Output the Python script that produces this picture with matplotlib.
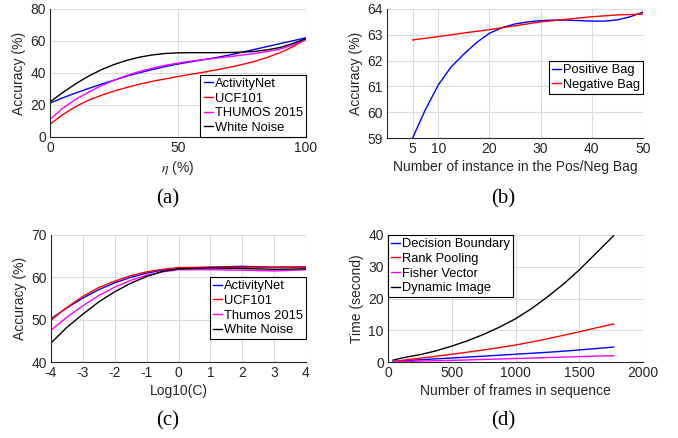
import matplotlib
matplotlib.use("Agg")
import matplotlib.pyplot as plt

plt.rcParams['font.family'] = ['Liberation Sans', 'DejaVu Sans']
plt.rcParams['mathtext.fontset'] = 'stix'
plt.rcParams['axes.unicode_minus'] = False

# ---------------- data ----------------
# (a)
eta = [0, 5, 10, 15, 20, 25, 30, 35, 40, 45, 50, 55, 60, 65, 70, 75, 80, 85, 90, 95, 100]
a_activitynet = [21.2, 24.5, 27.5, 30.3, 33, 35.5, 38, 40.2, 42.2, 44, 45.6, 47, 48.3, 49.7, 51.2, 53, 54.8, 56.6, 58.4, 60.2, 62]
a_ucf101 = [8, 14, 19, 23, 26, 28.7, 31, 33, 34.8, 36.3, 37.8, 39.2, 40.5, 42, 43.5, 45.3, 47.3, 49.8, 52.8, 56.5, 61]
a_thumos = [11, 18, 23.5, 28, 32, 35.5, 38.5, 41, 43, 44.8, 46.2, 47.4, 48.4, 49.3, 50.2, 51.2, 52.2, 53.4, 55, 57.5, 61.2]
a_noise = [22, 27.8, 33.2, 38, 42, 45.3, 47.9, 49.9, 51.3, 52.2, 52.6, 52.7, 52.7, 52.7, 52.8, 53, 53.5, 54.5, 56, 58.5, 61.5]
a_labels = ['ActivityNet', 'UCF101', 'THUMOS 2015', 'White Noise']

# (b)
b_pos_x = [5, 7.5, 10, 12.5, 15, 17.5, 20, 22.5, 25, 27.5, 30, 32.5, 35, 37.5, 40, 42.5, 45, 47.5, 50]
b_pos = [59.0, 60.1, 61.05, 61.75, 62.25, 62.7, 63.06, 63.28, 63.42, 63.5, 63.55, 63.57, 63.57, 63.55, 63.53, 63.53, 63.58, 63.7, 63.88]
b_neg_x = [5, 10, 15, 20, 25, 30, 35, 40, 45, 50]
b_neg = [62.8, 62.93, 63.07, 63.2, 63.35, 63.5, 63.6, 63.7, 63.77, 63.8]
b_labels = ['Positive Bag', 'Negative Bag']
b_xticks = [5, 10, 20, 30, 40, 50]

# (c)
logc = [-4, -3.5, -3, -2.5, -2, -1.5, -1, -0.5, 0, 1, 2, 3, 4]
c_activitynet = [50.2, 52.8, 55.1, 57.1, 58.7, 60, 61, 61.7, 62.1, 62.4, 62.6, 62.4, 62.4]
c_ucf101 = [49.9, 52.9, 55.5, 57.6, 59.1, 60.4, 61.3, 61.9, 62.3, 62.4, 62.4, 62.4, 62.5]
c_thumos = [47.5, 50.6, 53.3, 55.7, 57.7, 59.3, 60.5, 61.3, 61.8, 61.8, 61.7, 61.5, 61.8]
c_noise = [44.5, 48.2, 51.3, 54.2, 56.6, 58.6, 60.2, 61.4, 62, 62.2, 62.1, 61.9, 62.0]
c_labels = ['ActivityNet', 'UCF101', 'Thumos 2015', 'White Noise']

# (d)
frames = [40, 125, 250, 375, 500, 625, 750, 875, 1000, 1125, 1250, 1375, 1500, 1625, 1770]
d_decision = [0.15, 0.4, 0.7, 1.0, 1.25, 1.55, 1.85, 2.15, 2.45, 2.75, 3.05, 3.4, 3.8, 4.2, 4.7]
d_rank = [0.1, 0.6, 1.2, 1.8, 2.45, 3.1, 3.8, 4.55, 5.35, 6.3, 7.3, 8.4, 9.5, 10.7, 12.0]
d_fisher = [0.05, 0.15, 0.3, 0.4, 0.5, 0.65, 0.8, 0.95, 1.1, 1.25, 1.4, 1.55, 1.7, 1.85, 2.0]
d_dynamic = [0.6, 1.4, 2.3, 3.5, 5.0, 6.7, 8.7, 11.0, 13.6, 16.8, 20.5, 24.5, 29, 34, 39.8]
d_labels = ['Decision Boundary', 'Rank Pooling', 'Fisher Vector', 'Dynamic Image']

colors = ['#0000ff', '#ff0000', '#ff00ff', '#000000']

# ---------------- figure ----------------
W, H = 678, 438
fig = plt.figure(figsize=(W / 100, H / 100), dpi=100)

def ax_px(l, r, t, b):
    return fig.add_axes([l / W, (H - b) / H, (r - l) / W, (b - t) / H])

tc = '#262626'
FS = 10

def style(ax):
    ax.grid(True, color='#dcdcdc', lw=0.8)
    ax.set_axisbelow(True)
    for s in ['top', 'right']:
        ax.spines[s].set_visible(False)
    for s in ['left', 'bottom']:
        ax.spines[s].set_color(tc)
        ax.spines[s].set_linewidth(0.8)
    ax.tick_params(colors=tc, labelsize=FS, direction='in', length=0, pad=3)

def leg(ax, **kw):
    l = ax.legend(fontsize=9.3, frameon=True, fancybox=False, handlelength=0.7,
                  handletextpad=0.15, borderpad=0.25, labelspacing=0.2,
                  borderaxespad=0, framealpha=1, **kw)
    l.get_frame().set_edgecolor('black')
    l.get_frame().set_linewidth(0.8)
    return l

lw = 1.0

# (a)
ax = ax_px(50, 306, 9, 137)
style(ax)
for ys, c, lab in zip([a_activitynet, a_ucf101, a_thumos, a_noise], colors, a_labels):
    ax.plot(eta, ys, color=c, lw=lw, label=lab)
ax.set_xlim(0, 100); ax.set_ylim(0, 80)
ax.set_xticks([0, 50, 100]); ax.set_yticks([0, 20, 40, 60, 80])
ax.set_xlabel(r'$\eta$ (%)', fontsize=FS, color=tc, labelpad=3)
ax.set_ylabel('Accuracy (%)', fontsize=FS, color=tc, labelpad=3)
leg(ax, loc='lower right', bbox_to_anchor=(1, 0))

# (b)
ax = ax_px(387, 643, 9, 138)
style(ax)
ax.plot(b_pos_x, b_pos, color=colors[0], lw=lw, label=b_labels[0])
ax.plot(b_neg_x, b_neg, color=colors[1], lw=lw, label=b_labels[1])
ax.set_xlim(0, 50); ax.set_ylim(59, 64)
ax.set_xticks(b_xticks); ax.set_yticks([59, 60, 61, 62, 63, 64])
ax.set_xlabel('Number of instance in the Pos/Neg Bag', fontsize=FS, color=tc, labelpad=3)
ax.set_ylabel('Accuracy (%)', fontsize=FS, color=tc, labelpad=3)
leg(ax, loc='upper right', bbox_to_anchor=(1, (138 - 61) / 129))

# (c)
ax = ax_px(51, 306, 235, 362)
style(ax)
for ys, c, lab in zip([c_activitynet, c_ucf101, c_thumos, c_noise], colors, c_labels):
    ax.plot(logc, ys, color=c, lw=lw, label=lab)
ax.set_xlim(-4, 4); ax.set_ylim(40, 70)
ax.set_xticks(range(-4, 5)); ax.set_yticks([40, 50, 60, 70])
ax.set_xlabel('Log10(C)', fontsize=FS, color=tc, labelpad=3)
ax.set_ylabel('Accuracy (%)', fontsize=FS, color=tc, labelpad=3)
leg(ax, loc='upper right', bbox_to_anchor=(1, (362 - 277) / 127))

# (d)
ax = ax_px(388, 643, 235, 362)
style(ax)
for ys, c, lab in zip([d_decision, d_rank, d_fisher, d_dynamic], colors, d_labels):
    ax.plot(frames, ys, color=c, lw=lw, label=lab)
ax.set_xlim(0, 2000); ax.set_ylim(0, 40)
ax.set_xticks([0, 500, 1000, 1500, 2000]); ax.set_yticks([0, 10, 20, 30, 40])
ax.set_xlabel('Number of frames in sequence', fontsize=FS, color=tc, labelpad=3)
ax.set_ylabel('Time (second)', fontsize=FS, color=tc, labelpad=3)
leg(ax, loc='upper left', bbox_to_anchor=(0, 1))

# captions
cap = dict(fontsize=15, family=['Liberation Serif', 'DejaVu Serif'], ha='center', va='center')
fig.text(168 / W, 1 - 199 / H, '(a)', **cap)
fig.text(503 / W, 1 - 199 / H, '(b)', **cap)
fig.text(168 / W, 1 - 421 / H, '(c)', **cap)
fig.text(503 / W, 1 - 421 / H, '(d)', **cap)

fig.savefig('out.png', dpi=100)
